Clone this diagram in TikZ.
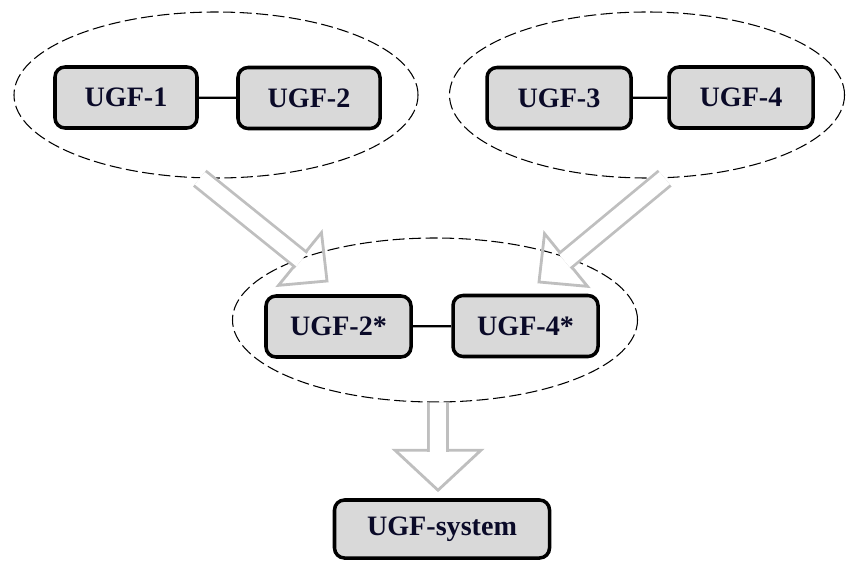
\documentclass[tikz,border=0pt]{standalone}
\usepackage{fontspec}
\setmainfont{Liberation Serif}
\usepackage{tikz}
\usetikzlibrary{arrows,shapes,positioning,calc}
\definecolor{boxfill}{HTML}{D9D9D9}
\definecolor{boxtext}{HTML}{0A0A28}
\definecolor{arrowgray}{HTML}{BFBFBF}
% hollow block arrow: start, head base, tip, half width of head (in picture units)
\newcommand{\hollowarrow}[4]{%
  \draw[arrowline] ($(#2)!#4!90:(#3)$) -- (#3) -- ($(#2)!#4!-90:(#3)$) -- cycle;
  \draw[arrowline, double=white, double distance=0.32cm] (#1) -- ($(#2)!5pt!(#3)$);
}

\begin{document}
\begin{tikzpicture}[scale=0.2]
                    \tikzstyle{ugfbox}=[draw=black, line width=2pt, rounded corners=0.2cm, fill=boxfill,
                      minimum width=2.84cm, minimum height=1.22cm, inner sep=0pt,
                      text=boxtext, font=\fontsize{16}{19}\selectfont\bfseries]
                    \tikzstyle{group}=[ellipse, draw=black, line width=0.6pt, dash pattern=on 0.24cm off 0.09cm, inner sep=0pt]
                    \tikzstyle{link}=[black, line width=1.2pt]
                    \tikzstyle{arrowline}=[draw=arrowgray, line width=1.6pt, line join=miter]
                    \useasboundingbox (0,0) rectangle (84.6,-56.1);
                    % groups
                    \node [group, minimum width=8.08cm, minimum height=3.32cm] (grpL) at (21.6,-9.5) {};
                    \node [group, minimum width=7.9cm, minimum height=3.32cm] (grpR) at (64.7,-9.5) {};
                    \node [group, minimum width=8.1cm, minimum height=3.28cm] (grpM) at (43.5,-32.0) {};
                    % boxes
                    \node [ugfbox] (u1) at (12.6,-9.75) {UGF-1};
                    \node [ugfbox] (u2) at (30.9,-9.8) {UGF-2};
                    \node [ugfbox, minimum width=2.88cm] (u3) at (55.9,-9.8) {UGF-3};
                    \node [ugfbox, minimum width=2.88cm] (u4) at (74.1,-9.75) {UGF-4};
                    \node [ugfbox, minimum width=2.9cm] (u2s) at (33.85,-32.65) {UGF-2*};
                    \node [ugfbox, minimum width=2.9cm] (u4s) at (52.55,-32.6) {UGF-4*};
                    \node [ugfbox, minimum width=4.3cm, minimum height=1.16cm] (sys) at (44.2,-52.9) {UGF-system};
                    \draw [link] (u1) -- (u2);
                    \draw [link] (u3) -- (u4);
                    \draw [link] (u2s) -- (u4s);
                    % block arrows
                    \coordinate (a1s) at (grpL.-101);
                    \coordinate (a1b) at (30.0,-25.9);
                    \coordinate (a1t) at (32.7,-28.1);
                    \hollowarrow{a1s}{a1b}{a1t}{3.4cm}
                    \coordinate (a2s) at (grpR.-78);
                    \coordinate (a2b) at (56.6,-26.0);
                    \coordinate (a2t) at (53.9,-28.2);
                    \hollowarrow{a2s}{a2b}{a2t}{3.4cm}
                    \coordinate (a3t) at ($(sys.north)+(-0.4,0.8)$);
                    \coordinate (a3b) at ($(a3t)+(0,4)$);
                    \coordinate (a3s) at (grpM.south -| a3t);
                    \hollowarrow{a3s}{a3b}{a3t}{4.3cm}
                \end{tikzpicture}
\end{document}
